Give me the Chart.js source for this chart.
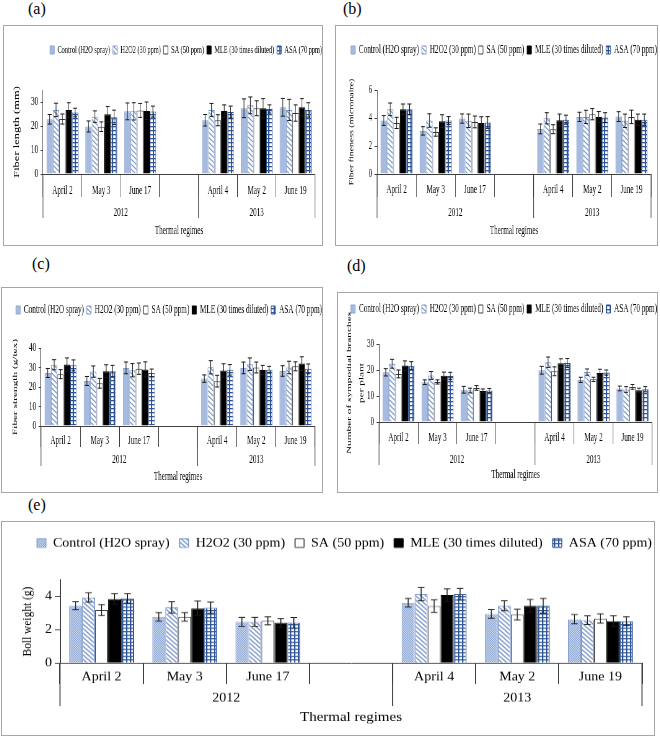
<!DOCTYPE html>
<html>
<head>
<meta charset="utf-8">
<script src="https://cdn.jsdelivr.net/npm/chart.js@4.4.1/dist/chart.umd.min.js"></script>
<style>
  html, body { margin: 0; padding: 0; background: #fff; }
  body { width: 660px; height: 737px; position: relative; overflow: hidden; font-family: 'Liberation Serif', serif; }
  .panel { position: absolute; border: 1px solid #a6a6a6; box-sizing: border-box; overflow: hidden; background: #fff; }
  .inner { position: absolute; left: 0; top: 0; transform-origin: 0 0; }
  .tag { position: absolute; font: 16px/16px 'Liberation Serif', serif; color: #000; }
</style>
</head>
<body>
<div class="tag" style="left:28px;top:1px;">(a)</div>
<div class="tag" style="left:343px;top:1px;">(b)</div>
<div class="tag" style="left:32px;top:256px;">(c)</div>
<div class="tag" style="left:347px;top:258px;">(d)</div>
<div class="tag" style="left:28px;top:497px;">(e)</div>

<script>
// ── data ──────────────────────────────────────────────────────────────────────
const CATEGORIES = ['April 2', 'May 3', 'June 17', '', 'April 4', 'May 2', 'June 19'];
const YEARS      = ['2012', '2013'];
const YEAR_SPANS = [4, 3];
const TREATMENTS = ['Control (H2O spray)', 'H2O2 (30 ppm)', 'SA (50 ppm)', 'MLE (30 times diluted)', 'ASA (70 ppm)'];

// rows: Control, H2O2, SA, MLE, ASA
const fiberLength = [
  [22.8, 19.8, 26.1, null, 22.4, 27.4, 27.8],
  [26.7, 23.9, 26.1, null, 26.7, 28.6, 26.7],
  [22.9, 19.7, 26.5, null, 22.4, 27.4, 25.4],
  [26.7, 24.9, 26.3, null, 26.2, 27.4, 27.8],
  [25.6, 23.6, 26.0, null, 25.8, 27.1, 26.7],
];
const fiberLengthErr = [
  [2.0, 2.3, 3.5, null, 2.4, 3.9, 3.7],
  [2.8, 2.4, 3.6, null, 2.7, 3.5, 4.4],
  [2.1, 2.0, 2.9, null, 2.3, 3.1, 3.4],
  [3.0, 3.2, 3.7, null, 2.6, 4.0, 3.6],
  [1.8, 3.0, 2.3, null, 2.5, 1.7, 3.0],
];

const fiberFineness = [
  [3.82, 3.08, 3.96, null, 3.22, 4.08, 4.10],
  [4.62, 3.82, 3.80, null, 3.98, 4.08, 3.80],
  [3.65, 3.00, 3.72, null, 3.20, 4.27, 4.08],
  [4.62, 3.77, 3.65, null, 3.84, 4.08, 3.88],
  [4.62, 3.82, 3.68, null, 3.88, 4.03, 3.88],
];
const fiberFinenessErr = [
  [0.35, 0.30, 0.33, null, 0.35, 0.33, 0.35],
  [0.45, 0.48, 0.48, null, 0.40, 0.47, 0.48],
  [0.40, 0.30, 0.42, null, 0.32, 0.40, 0.48],
  [0.38, 0.46, 0.44, null, 0.44, 0.38, 0.40],
  [0.38, 0.28, 0.42, null, 0.32, 0.35, 0.40],
];

const fiberStrength = [
  [27.2, 23.1, 29.8, null, 24.3, 29.8, 28.2],
  [31.4, 27.9, 28.6, null, 30.1, 31.7, 30.0],
  [26.6, 21.9, 29.4, null, 23.0, 30.0, 30.6],
  [31.5, 28.1, 29.0, null, 28.5, 28.7, 32.0],
  [31.1, 28.1, 27.2, null, 28.8, 28.9, 29.3],
];
const fiberStrengthErr = [
  [2.3, 2.3, 3.0, null, 1.9, 3.0, 2.7],
  [2.6, 2.9, 3.4, null, 3.4, 3.2, 3.2],
  [2.3, 2.5, 2.9, null, 3.0, 2.8, 2.3],
  [3.4, 3.3, 3.9, null, 3.4, 2.4, 3.5],
  [2.8, 3.0, 2.0, null, 2.7, 1.7, 2.5],
];

const sympodial = [
  [19.1, 15.3, 12.4, null, 19.9, 16.2, 12.9],
  [22.4, 17.9, 12.1, null, 23.0, 19.2, 12.5],
  [18.5, 15.4, 13.1, null, 19.5, 16.4, 13.5],
  [21.7, 17.8, 11.9, null, 22.6, 18.8, 12.2],
  [21.6, 17.7, 12.1, null, 22.7, 19.0, 12.6],
];
const sympodialErr = [
  [1.4, 0.9, 1.3, null, 1.5, 1.0, 0.9],
  [1.7, 1.5, 0.9, null, 2.0, 1.2, 1.1],
  [1.5, 0.8, 0.9, null, 1.7, 0.8, 0.9],
  [1.8, 1.4, 0.8, null, 1.7, 1.5, 0.8],
  [1.6, 1.4, 0.8, null, 1.7, 1.0, 1.0],
];

const bollWeight = [
  [3.45, 2.78, 2.48, null, 3.63, 2.96, 2.64],
  [3.95, 3.35, 2.48, null, 4.15, 3.45, 2.58],
  [3.19, 2.78, 2.54, null, 3.43, 2.92, 2.68],
  [3.85, 3.29, 2.42, null, 4.09, 3.45, 2.52],
  [3.89, 3.33, 2.42, null, 4.15, 3.45, 2.52],
];
const bollWeightErr = [
  [0.24, 0.26, 0.27, null, 0.26, 0.26, 0.28],
  [0.28, 0.34, 0.27, null, 0.40, 0.30, 0.26],
  [0.33, 0.26, 0.24, null, 0.38, 0.32, 0.28],
  [0.32, 0.44, 0.26, null, 0.38, 0.38, 0.32],
  [0.28, 0.34, 0.32, null, 0.35, 0.44, 0.26],
];

// ── styles ────────────────────────────────────────────────────────────────────
Chart.defaults.font.family = "'Liberation Serif', 'Times New Roman', serif";
Chart.defaults.color = '#000';

const SERIES_STYLE = [
  { kind: 'dots',  border: '#8aa3cf' },
  { kind: 'hatch', border: '#7d98c9' },
  { kind: 'white', border: '#3a3a3a' },
  { kind: 'black', border: '#000000' },
  { kind: 'grid',  border: '#2f5597' },
];

function makeFill(kind, sx) {
  if (kind === 'white') return '#ffffff';
  if (kind === 'black') return '#000000';
  if (kind === 'dots' && sx < 1) return '#a6bbdf';   // small panels: the dot texture reads as flat blue
  const c = document.createElement('canvas');
  const g = c.getContext('2d');
  if (kind === 'dots') {
    c.width = 2; c.height = 2;
    g.fillStyle = '#c9d7ef'; g.fillRect(0, 0, 2, 2);
    g.fillStyle = '#8ea8d4'; g.fillRect(0, 0, 1, 1); g.fillRect(1, 1, 1, 1);
  } else if (kind === 'hatch') {
    const w = Math.round(5 / sx), h = 5;
    c.width = w; c.height = h;
    g.fillStyle = '#fff'; g.fillRect(0, 0, w, h);
    g.strokeStyle = '#7d98c9'; g.lineWidth = 1.4;
    g.beginPath();
    g.moveTo(-w, -h); g.lineTo(2 * w, 2 * h);
    g.moveTo(-w, 0); g.lineTo(w, 2 * h);
    g.moveTo(0, -h); g.lineTo(2 * w, h);
    g.stroke();
  } else if (kind === 'grid') {
    const w = Math.round(4 / sx), h = 4;
    c.width = w; c.height = h;
    g.fillStyle = '#fff'; g.fillRect(0, 0, w, h);
    g.fillStyle = '#2f5597';
    g.fillRect(0, 0, w, 1.3);
    g.fillRect(0, 0, 1.3 / sx, h);
  }
  return g.createPattern(c, 'repeat');
}

// ── plugins ───────────────────────────────────────────────────────────────────
const errorBars = {
  id: 'errorBars',
  afterDatasetsDraw(chart, args, opts) {
    const { ctx } = chart;
    const y = chart.scales.y;
    ctx.save();
    ctx.strokeStyle = opts.color;
    ctx.lineWidth = opts.width;
    chart.data.datasets.forEach((ds, i) => {
      chart.getDatasetMeta(i).data.forEach((bar, j) => {
        const v = ds.data[j], e = ds.errors[j];
        if (v == null || e == null) return;
        const top = y.getPixelForValue(v + e), bot = y.getPixelForValue(v - e);
        const x = bar.x, w = opts.cap;
        ctx.beginPath();
        ctx.moveTo(x, top); ctx.lineTo(x, bot);
        ctx.moveTo(x - w, top); ctx.lineTo(x + w, top);
        ctx.moveTo(x - w, bot); ctx.lineTo(x + w, bot);
        ctx.stroke();
      });
    });
    ctx.restore();
  }
};

const yearGroups = {
  id: 'yearGroups',
  afterDraw(chart, args, opts) {
    const x = chart.scales.x, base = chart.chartArea.bottom, ctx = chart.ctx;
    const half = (x.getPixelForValue(1) - x.getPixelForValue(0)) / 2;
    const edges = [x.getPixelForValue(0) - half];
    ctx.save();
    ctx.fillStyle = '#000';
    ctx.font = opts.size + "px 'Liberation Serif', serif";
    ctx.textAlign = 'center';
    ctx.textBaseline = 'middle';
    let start = 0;
    YEARS.forEach((yr, k) => {
      const end = start + YEAR_SPANS[k] - 1;
      const left = x.getPixelForValue(start) - half, right = x.getPixelForValue(end) + half;
      ctx.fillText(yr, (left + right) / 2, base + opts.labelOffset);
      edges.push(right);
      start = end + 1;
    });
    ctx.strokeStyle = opts.color;
    ctx.lineWidth = 1;
    ctx.beginPath();
    edges.forEach(px => { ctx.moveTo(px, base); ctx.lineTo(px, base + opts.lineLength); });
    ctx.stroke();
    ctx.restore();
  }
};

// ── panels ────────────────────────────────────────────────────────────────────
const PANELS = [
  { id: 'a', values: fiberLength, errors: fiberLengthErr, yTitle: 'Fiber length (mm)', yMax: 35, yStep: 5,
    box: { x: 3, y: 25, w: 320, h: 221 }, sx: 0.62, sy: 1, fs: 11.5, legendFs: 10.2, boxW: 7, boxH: 8, legendPad: 4.5,
    area: { l: 43, r: 315, t: 90, b: 174 }, legendY: 50, legendEnd: 322, yTitleFs: 12.5, yTitleLh: 1.2, yTitleX: 17,
    yTickLen: 4, yTickPad: 4, catDy: 17, catSep: 23, yearDy: 39, yearSep: 44, xTitleY: 231, xTitleFs: 11.5,
    catPct: 0.82, cap: 3.2 },
  { id: 'b', values: fiberFineness, errors: fiberFinenessErr, yTitle: 'Fiber fineness (micronaire)', yMax: 6, yStep: 1,
    box: { x: 335, y: 25, w: 323, h: 221 }, sx: 0.62, sy: 1, fs: 11.5, legendFs: 11.65, boxW: 7, boxH: 8, legendPad: 4.5,
    area: { l: 377, r: 651, t: 90, b: 174 }, legendY: 50, legendEnd: 657, yTitleFs: 9.8, yTitleLh: 1.2, yTitleX: 352,
    yTickLen: 4, yTickPad: 4, catDy: 16, catSep: 23, yearDy: 39, yearSep: 44, xTitleY: 231, xTitleFs: 11.5,
    catPct: 0.82, cap: 3.2 },
  { id: 'c', values: fiberStrength, errors: fiberStrengthErr, yTitle: 'Fiber strength (g/tex)', yMax: 40, yStep: 5,
    box: { x: 1, y: 287, w: 322, h: 206 }, sx: 0.62, sy: 1, fs: 11.5, legendFs: 11.65, boxW: 7, boxH: 8, legendPad: 4.5,
    area: { l: 41, r: 315, t: 348, b: 426 }, legendY: 310, legendEnd: 322, yTitleFs: 11.3, yTitleLh: 1.2, yTitleX: 15,
    yTickLen: 4, yTickPad: 4, catDy: 15, catSep: 21, yearDy: 34, yearSep: 40, xTitleY: 477, xTitleFs: 11.5,
    catPct: 0.82, cap: 3.2 },
  { id: 'd', values: sympodial, errors: sympodialErr, yTitle: ['Number of sympodial branches', 'per plant'], yMax: 30, yStep: 5,
    box: { x: 337, y: 292, w: 321, h: 201 }, sx: 0.62, sy: 1, fs: 11.5, legendFs: 11.65, boxW: 7, boxH: 8, legendPad: 4.5,
    area: { l: 379, r: 652, t: 344, b: 422 }, legendY: 309, legendEnd: 657, yTitleFs: 11.3, yTitleLh: 1.8, yTitleX: 349,
    yTickLen: 4, yTickPad: 4, catDy: 16, catSep: 22, yearDy: 38, yearSep: 43, xTitleY: 475, xTitleFs: 11.5,
    catPct: 0.82, cap: 3.2 },
  { id: 'e', values: bollWeight, errors: bollWeightErr, yTitle: 'Boll weight (g)', yMax: 5, yStep: 1,
    box: { x: 1, y: 521, w: 654, h: 215 }, sx: 1, sy: 0.88, fs: 14, legendFs: 14, boxW: 9, boxH: 10, legendPad: 10,
    area: { l: 60, r: 642, t: 580, b: 663 }, legendY: 543, legendEnd: 652, yTitleFs: 13, yTitleLh: 1.2, yTitleX: 28,
    yTickLen: 5, yTickPad: 3, catDy: 14, catSep: 21, yearDy: 35, yearSep: 43, xTitleY: 717, xTitleFs: 15,
    catPct: 0.78, cap: 3.3 },
];

function buildPanel(p) {
  const W = Math.round((p.box.w - 2) / p.sx), H = Math.round((p.box.h - 2) / p.sy);
  const ix = X => (X - p.box.x - 1) / p.sx;
  const iy = Y => (Y - p.box.y - 1) / p.sy;
  const aL = ix(p.area.l), aR = ix(p.area.r), aT = iy(p.area.t), aB = iy(p.area.b);

  // vertical layout: legend, spacer, chart area, x axis block
  const itemH = Math.max(p.legendFs, p.boxH);
  const padT = iy(p.legendY) - p.legendPad - itemH / 2;
  const spacer = aT - (padT + itemH + p.legendPad + 10);
  const hx = iy(p.xTitleY) - aB + p.xTitleFs * 0.6 + 2;
  const padB = H - aB - hx;
  // horizontal: legend is right-aligned to legendEnd, chart area right edge kept by an empty right scale
  const padR = W - p.legendPad - ix(p.legendEnd);
  const yTitlePad = ix(p.yTitleX) - p.yTitleFs * p.yTitleLh / 2;

  const panel = document.createElement('div');
  panel.className = 'panel';
  Object.assign(panel.style, { left: p.box.x + 'px', top: p.box.y + 'px', width: p.box.w + 'px', height: p.box.h + 'px' });
  const inner = document.createElement('div');
  inner.className = 'inner';
  Object.assign(inner.style, { width: W + 'px', height: H + 'px', transform: `scale(${p.sx}, ${p.sy})` });
  const cv = document.createElement('canvas');
  cv.width = W; cv.height = H;
  inner.appendChild(cv); panel.appendChild(inner); document.body.appendChild(panel);

  const datasets = TREATMENTS.map((name, i) => ({
    label: name,
    data: p.values[i],
    errors: p.errors[i],
    backgroundColor: makeFill(SERIES_STYLE[i].kind, p.sx),
    borderColor: SERIES_STYLE[i].border,
    borderWidth: 1,
    categoryPercentage: p.catPct,
    barPercentage: 1,
  }));

  new Chart(cv, {
    type: 'bar',
    data: { labels: CATEGORIES, datasets },
    plugins: [errorBars, yearGroups],
    options: {
      responsive: false,
      animation: false,
      events: [],
      devicePixelRatio: 1,
      layout: { padding: { top: padT, bottom: padB, left: 0, right: padR } },
      plugins: {
        tooltip: { enabled: false },
        legend: {
          position: 'top', align: 'end', weight: 1000,
          labels: { boxWidth: p.boxW, boxHeight: p.boxH, padding: p.legendPad, color: '#000', font: { size: p.legendFs } },
        },
        title: {
          display: true, text: '', position: 'top', weight: 500,
          font: { size: 1, lineHeight: 1 }, padding: { top: 0, bottom: Math.max(0, spacer - 1) },
        },
        errorBars: { color: '#1a1a1a', width: 1, cap: p.cap },
        yearGroups: { color: '#404040', size: p.fs, labelOffset: p.yearDy / p.sy, lineLength: p.yearSep / p.sy },
      },
      scales: {
        x: {
          offset: true,
          grid: { offset: true, drawOnChartArea: false, drawTicks: true, tickLength: p.catSep / p.sy, color: '#404040' },
          border: { display: true, color: '#404040' },
          ticks: {
            autoSkip: false, maxRotation: 0, color: '#000', font: { size: p.fs },
            padding: p.catDy / p.sy - p.catSep / p.sy - p.fs * 0.6,
          },
          title: { display: true, text: 'Thermal regimes', color: '#000', font: { size: p.xTitleFs }, padding: { top: 0, bottom: 2 } },
          afterFit(s) { s.height = hx; },
        },
        y: {
          position: 'left', min: 0, max: p.yMax,
          ticks: { stepSize: p.yStep, padding: p.yTickPad, color: '#000', font: { size: p.fs } },
          grid: { drawOnChartArea: false, drawTicks: true, tickLength: p.yTickLen, color: '#404040' },
          border: { display: true, color: '#404040' },
          title: {
            display: true, text: p.yTitle, color: '#000',
            font: { size: p.yTitleFs, lineHeight: p.yTitleLh }, padding: { top: yTitlePad, bottom: 0 },
          },
          afterFit(s) { s.width = aL; },
        },
        yRight: {
          type: 'linear', position: 'right', display: true,
          grid: { display: false }, ticks: { display: false }, border: { display: false },
          afterFit(s) { s.width = W - padR - aR; },
        },
      },
    },
  });
}

PANELS.forEach(buildPanel);
</script>
</body>
</html>
